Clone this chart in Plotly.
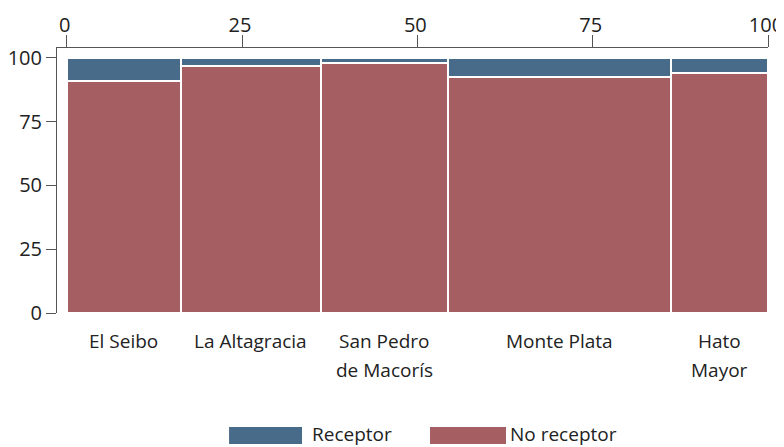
import plotly.graph_objects as go

provinces = ["El Seibo", "La Altagracia", "San Pedro<br>de Macorís", "Monte Plata", "Hato<br>Mayor"]
widths = [16.3, 19.9, 18.1, 31.8, 13.9]
no_receptor = [91.0, 97.0, 98.0, 92.5, 94.1]
receptor = [9.0, 3.0, 2.0, 7.5, 5.9]
x_ticks = [0, 25, 50, 75, 100]
y_ticks = [0, 25, 50, 75, 100]

BLUE = "#496B8A"
RED = "#A55E62"
FONT = "Open Sans"
TXT = "#222222"

starts = []
acc = 0
for w in widths:
    starts.append(acc)
    acc += w
mids = [s + w / 2 for s, w in zip(starts, widths)]

fig = go.Figure()
fig.add_trace(go.Bar(x=mids, y=no_receptor, width=widths, name="No receptor",
                     marker=dict(color=RED, line=dict(color="white", width=2)),
                     showlegend=False))
fig.add_trace(go.Bar(x=mids, y=receptor, width=widths, name="Receptor",
                     marker=dict(color=BLUE, line=dict(color="white", width=2)),
                     showlegend=False))

for m, p in zip(mids, provinces):
    for i, line in enumerate(p.split("<br>")):
        fig.add_annotation(x=m, y=0, xref="x", yref="paper", text=line, showarrow=False,
                           yanchor="middle", yshift=-28 - 29 * i,
                           font=dict(family=FONT, size=19, color=TXT))

# custom legend (paper coordinates)
legend_items = [("Receptor", BLUE, 0.242, 0.3446, 0.360), ("No receptor", RED, 0.5246, 0.6315, 0.638)]
for name, col, x0, x1, xt in legend_items:
    fig.add_shape(type="rect", xref="paper", yref="paper", x0=x0, x1=x1,
                  y0=-0.494, y1=-0.430, fillcolor=col, line=dict(width=0), layer="above")
    fig.add_annotation(x=xt, y=-0.5, xref="paper", yref="paper", text=name, showarrow=False,
                       xanchor="left", yanchor="bottom", xshift=-3, yshift=-3,
                       font=dict(family=FONT, size=19, color=TXT))

# page body has an 8px default margin, so the figure is sized to fit the window
fig.update_layout(
    width=776, height=439,
    margin=dict(l=49, r=16, t=40, b=134),
    barmode="stack", bargap=0,
    plot_bgcolor="white", paper_bgcolor="white",
    font=dict(family=FONT, size=20, color=TXT),
)
fig.update_xaxes(side="top", range=[-1.38, 100], tickvals=x_ticks, ticks="outside",
                 ticklen=12, tickcolor="#555", showline=True, linecolor="#555", linewidth=1,
                 showgrid=False, zeroline=False, automargin=False,
                 ticklabeloverflow="allow", ticklabelstandoff=-5, ticklabelshift=-2,
                 tickfont=dict(family=FONT, size=20, color=TXT))
fig.update_yaxes(range=[0, 103.9], tickvals=y_ticks, ticks="outside", ticklen=10,
                 tickcolor="#555", showline=True, linecolor="#555", linewidth=1,
                 showgrid=False, zeroline=False, automargin=False,
                 ticklabeloverflow="allow",
                 tickfont=dict(family=FONT, size=20, color=TXT))

fig.write_html("out.html")
